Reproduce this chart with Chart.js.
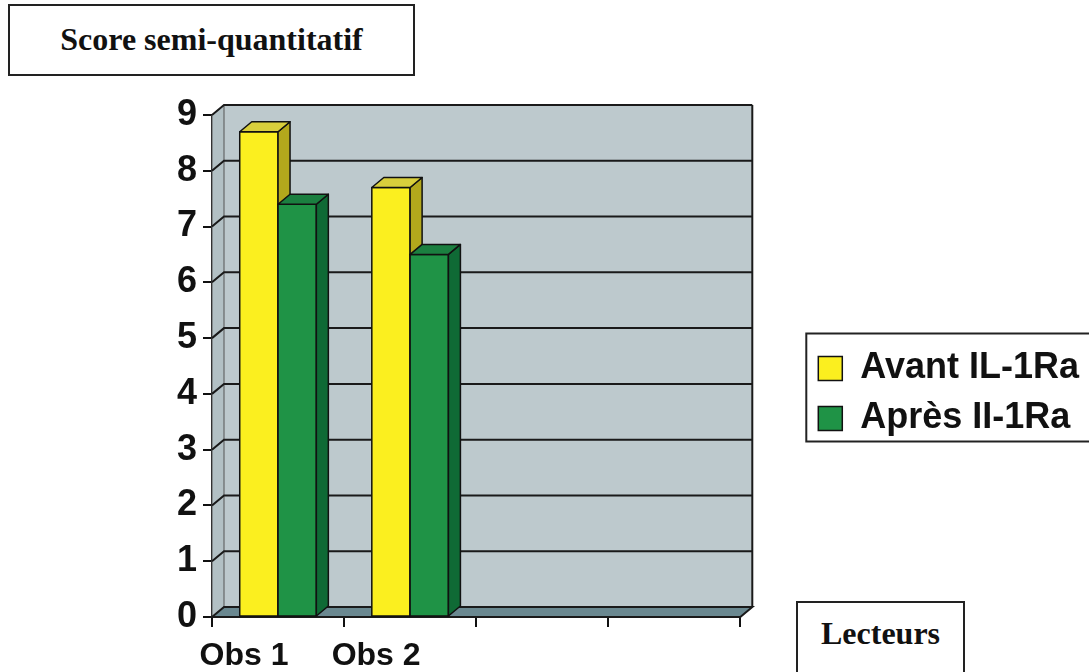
<!DOCTYPE html>
<html>
<head>
<meta charset="utf-8">
<script src="https://cdn.jsdelivr.net/npm/chart.js@4/dist/chart.umd.min.js"></script>
<style>
  html, body { margin: 0; padding: 0; background: #ffffff; }
  #wrap { position: relative; width: 1089px; height: 672px; overflow: hidden; }
  #c { position: absolute; left: 0; top: 0; }
  .box { position: absolute; box-sizing: border-box; border: 2px solid #222; background: #fff;
         font-family: 'Liberation Serif', 'Times New Roman', serif; font-weight: bold; font-size: 32px;
         color: #111; text-align: center; white-space: nowrap; }
</style>
</head>
<body>
<div id="wrap">
  <canvas id="c" width="1089" height="672"></canvas>
  <div class="box" style="left:8px; top:4px; width:407px; height:72px; line-height:66px;">Score semi-quantitatif</div>
  <div class="box" style="left:796px; top:601px; width:169px; height:90px; padding-top:13px; line-height:34px;">Lecteurs</div>
</div>
<script>
// ---- data ----
const categories = ['Obs 1', 'Obs 2', '', ''];
const seriesNames = ['Avant IL-1Ra', 'Après II-1Ra'];
const avantValues = [8.7, 7.7, null, null];
const apresValues = [7.4, 6.5, null, null];
const yMin = 0;
const yMax = 9;
const yStep = 1;

// ---- styles ----
const faceColors = [
  { front: '#fbef1f', side: '#b3a81c', top: '#d9cf3c' },
  { front: '#1f9346', side: '#0f6a35', top: '#1b7f40' }
];
const DX = 12, DY = 10;

const threeD = {
  id: 'threeD',
  beforeDatasetsDraw(chart) {
    const { ctx, chartArea: a, scales: { y } } = chart;
    ctx.save();
    ctx.fillStyle = '#bdc9cd';
    ctx.fillRect(a.left + DX, a.top - DY, a.right - a.left, a.bottom - a.top);
    ctx.fillStyle = '#b2c0c4';
    ctx.beginPath();
    ctx.moveTo(a.left, a.top); ctx.lineTo(a.left + DX, a.top - DY);
    ctx.lineTo(a.left + DX, a.bottom - DY); ctx.lineTo(a.left, a.bottom);
    ctx.closePath(); ctx.fill();
    ctx.strokeStyle = '#555'; ctx.lineWidth = 1; ctx.stroke();
    ctx.fillStyle = '#6a8890';
    ctx.beginPath();
    ctx.moveTo(a.left, a.bottom); ctx.lineTo(a.left + DX, a.bottom - DY);
    ctx.lineTo(a.right + DX, a.bottom - DY); ctx.lineTo(a.right, a.bottom);
    ctx.closePath(); ctx.fill();
    ctx.strokeStyle = '#1a1a1a'; ctx.lineWidth = 2; ctx.stroke();
    ctx.strokeStyle = '#1a1a1a'; ctx.lineWidth = 2;
    y.ticks.forEach(t => {
      if (t.value === yMin) return;
      const py = y.getPixelForValue(t.value);
      ctx.beginPath();
      ctx.moveTo(a.left, py); ctx.lineTo(a.left + DX, py - DY);
      ctx.lineTo(a.right + DX, py - DY);
      ctx.stroke();
    });
    ctx.beginPath();
    ctx.moveTo(a.right + DX, a.top - DY); ctx.lineTo(a.right + DX, a.bottom - DY);
    ctx.stroke();
    ctx.restore();
  },
  afterDatasetsDraw(chart) {
    const { ctx } = chart;
    ctx.save();
    ctx.strokeStyle = '#111'; ctx.lineWidth = 1.5; ctx.lineJoin = 'round';
    const n = chart.data.labels.length;
    for (let i = 0; i < n; i++) {
      chart.data.datasets.forEach((ds, d) => {
        if (ds.data[i] == null) return;
        const el = chart.getDatasetMeta(d).data[i];
        const { x, y, base, width } = el.getProps(['x', 'y', 'base', 'width'], true);
        const l = x - width / 2, r = x + width / 2;
        const c = faceColors[d];
        ctx.fillStyle = c.front;
        ctx.fillRect(l, y, width, base - y);
        ctx.strokeRect(l, y, width, base - y);
        ctx.fillStyle = c.side;
        ctx.beginPath();
        ctx.moveTo(r, y); ctx.lineTo(r + DX, y - DY); ctx.lineTo(r + DX, base - DY); ctx.lineTo(r, base);
        ctx.closePath(); ctx.fill(); ctx.stroke();
        ctx.fillStyle = c.top;
        ctx.beginPath();
        ctx.moveTo(l, y); ctx.lineTo(l + DX, y - DY); ctx.lineTo(r + DX, y - DY); ctx.lineTo(r, y);
        ctx.closePath(); ctx.fill(); ctx.stroke();
      });
    }
    ctx.restore();
  },
  afterDraw(chart) {
    const lg = chart.legend;
    if (!lg || !lg.legendHitBoxes || !lg.legendHitBoxes.length) return;
    const hb = lg.legendHitBoxes;
    const top = hb[0].top - 17;
    const bottom = hb[hb.length - 1].top + hb[hb.length - 1].height + 5;
    const ctx = chart.ctx;
    ctx.save();
    ctx.strokeStyle = '#222'; ctx.lineWidth = 2;
    ctx.strokeRect(lg.left + 2, top, chart.width + 10, bottom - top);
    ctx.restore();
  }
};

new Chart(document.getElementById('c'), {
  type: 'bar',
  data: {
    labels: categories,
    datasets: [
      { label: seriesNames[0], data: avantValues, backgroundColor: faceColors[0].front, borderColor: '#111', borderWidth: 1.5 },
      { label: seriesNames[1], data: apresValues, backgroundColor: faceColors[1].front, borderColor: '#111', borderWidth: 1.5 }
    ]
  },
  options: {
    responsive: false,
    animation: false,
    devicePixelRatio: 1,
    layout: { padding: { top: 115, left: 0, right: 0, bottom: 0 } },
    datasets: { bar: { categoryPercentage: 0.58, barPercentage: 1.0 } },
    plugins: {
      title: { display: false },
      tooltip: { enabled: false },
      legend: {
        position: 'right',
        align: 'center',
        maxWidth: 320,
        labels: {
          color: '#111',
          font: { family: "'Liberation Sans', Arial, sans-serif", size: 36, weight: 'bold' },
          boxWidth: 24, boxHeight: 24, padding: 14
        }
      }
    },
    scales: {
      x: {
        offset: true,
        grid: { offset: true, drawOnChartArea: false, drawTicks: true, tickLength: 10, color: '#111', lineWidth: 2 },
        border: { display: true, color: '#111', width: 2 },
        ticks: {
          color: '#111', labelOffset: -34, padding: 10, maxRotation: 0,
          font: { family: "'Liberation Sans', Arial, sans-serif", size: 32, weight: 'bold' }
        },
        afterFit(s) { s.height = 55; }
      },
      y: {
        min: yMin, max: yMax,
        grid: { drawOnChartArea: false, drawTicks: true, tickLength: 9, color: '#111', lineWidth: 2 },
        border: { display: true, color: '#111', width: 2 },
        ticks: {
          stepSize: yStep, color: '#111', padding: 6,
          font: { family: "'Liberation Sans', Arial, sans-serif", size: 36, weight: 'bold' }
        },
        afterFit(s) { s.width = 212; }
      },
      gap: {
        axis: 'y', position: 'right', display: true,
        grid: { display: false }, border: { display: false }, ticks: { display: false },
        afterFit(s) { s.width = 64; }
      }
    }
  },
  plugins: [threeD]
});
</script>
</body>
</html>
